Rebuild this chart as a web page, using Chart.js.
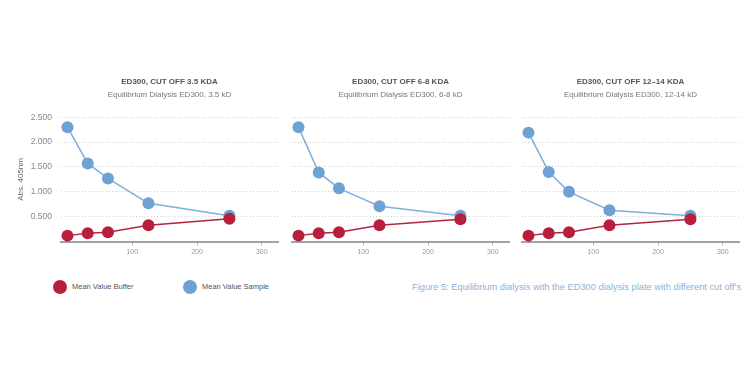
<!DOCTYPE html>
<html>
<head>
<meta charset="utf-8">
<script src="https://cdn.jsdelivr.net/npm/chart.js@4.4.0/dist/chart.umd.min.js"></script>
<style>
  body { margin: 0; background: #fff; font-family: "Liberation Sans", Arial, sans-serif; }
  #wrap { position: relative; width: 750px; height: 375px; overflow: hidden; }
  canvas { position: absolute; top: 70px; }
  .leg { position: absolute; top: 280px; height: 14px; line-height: 14px; font-size: 7.5px; color: #555; }
  .dot { position: absolute; top: 0; width: 14px; height: 14px; border-radius: 50%; }
  .leg span.txt { position: absolute; left: 19px; white-space: nowrap; }
  #caption { position: absolute; left: 412px; top: 280px; line-height: 14px; font-size: 9.3px; color: #8ab3dc; white-space: nowrap; }
</style>
</head>
<body>
<div id="wrap">
  <canvas id="c1" width="285" height="190" style="left:0px"></canvas>
  <canvas id="c2" width="230" height="190" style="left:285px"></canvas>
  <canvas id="c3" width="230" height="190" style="left:515px"></canvas>
  <div class="leg" style="left:53px"><div class="dot" style="background:#b71f3c"></div><span class="txt">Mean Value Buffer</span></div>
  <div class="leg" style="left:183px"><div class="dot" style="background:#6ea1d4"></div><span class="txt">Mean Value Sample</span></div>
  <div id="caption">Figure 5: Equilibrium dialysis with the ED300 dialysis plate with different cut off's</div>
</div>
<script>
// concentracion (eje x) comun a los tres paneles
const dilucion = [0, 31.25, 62.5, 125, 250];

const titulos = ['ED300, CUT OFF 3.5 KDA', 'ED300, CUT OFF 6-8 KDA', 'ED300, CUT OFF 12\u201314 KDA'];
const subtitulos = ['Equilibrium Dialysis ED300, 3.5 kD', 'Equilibrium Dialysis ED300, 6-8 kD', 'Equilibrium Dialysis ED300, 12-14 kD'];

// Mean Value Buffer
const buffer35 = [0.12, 0.17, 0.19, 0.33, 0.46];
const buffer68 = [0.12, 0.17, 0.19, 0.33, 0.45];
const buffer1214 = [0.12, 0.17, 0.19, 0.33, 0.45];

// Mean Value Sample
const sample35 = [2.30, 1.57, 1.27, 0.77, 0.52];
const sample68 = [2.30, 1.39, 1.07, 0.71, 0.52];
const sample1214 = [2.19, 1.40, 1.00, 0.63, 0.52];

const ticksX = [100, 200, 300];
const ticksY = [0.5, 1, 1.5, 2, 2.5];

const rojo = '#b71f3c';
const azul = '#6ea1d4';

function puntos(valores) {
    return dilucion.map((x, i) => ({ x: x, y: valores[i] }));
}

function crearPanel(id, idx, buffer, sample, conEje) {
    new Chart(document.getElementById(id), {
        type: 'line',
        data: {
            datasets: [
                { label: 'Mean Value Buffer', data: puntos(buffer), borderColor: '#b3243f', backgroundColor: rojo,
                  pointBackgroundColor: rojo, pointBorderWidth: 0, pointRadius: 6, borderWidth: 1.5, clip: false },
                { label: 'Mean Value Sample', data: puntos(sample), borderColor: '#80afdb', backgroundColor: azul,
                  pointBackgroundColor: azul, pointBorderWidth: 0, pointRadius: 6, borderWidth: 1.5, clip: false }
            ]
        },
        options: {
            responsive: false,
            animation: false,
            devicePixelRatio: 1,
            layout: { padding: { left: conEje ? 0 : 7, right: conEje ? 7 : 4, top: 0, bottom: 2 } },
            plugins: {
                legend: { display: false },
                tooltip: { enabled: false },
                title: { display: true, text: titulos[idx], fullSize: false, color: '#555',
                         font: { family: 'Liberation Sans', size: 8, weight: 'bold' }, padding: { top: 7, bottom: 2 } },
                subtitle: { display: true, text: subtitulos[idx], fullSize: false, color: '#777',
                            font: { family: 'Liberation Sans', size: 8 }, padding: { top: 1, bottom: 18 } }
            },
            scales: {
                x: {
                    type: 'linear', min: -10, max: 325,
                    afterBuildTicks: s => { s.ticks = ticksX.map(v => ({ value: v })); },
                    grid: { drawOnChartArea: false, drawTicks: true, tickLength: 4, tickColor: '#bbb' },
                    border: { display: true, color: '#a3a3a3', width: 2 },
                    ticks: { color: '#999', padding: 2, font: { family: 'Liberation Sans', size: 7 } }
                },
                y: {
                    min: 0, max: 2.5,
                    afterBuildTicks: s => { s.ticks = ticksY.map(v => ({ value: v })); },
                    afterFit: s => { s.width = conEje ? 61 : 0; },
                    grid: { color: '#cfcfcf', drawTicks: false, lineWidth: 1 },
                    border: { display: false, dash: [1, 2] },
                    ticks: { display: conEje, color: '#888', padding: 9, font: { family: 'Liberation Sans', size: 8.5 },
                             callback: v => v.toFixed(3) },
                    title: { display: conEje, text: 'Abs. 405nm', color: '#666', padding: { top: 16, bottom: 0 },
                             font: { family: 'Liberation Sans', size: 8 } }
                }
            }
        }
    });
}

crearPanel('c1', 0, buffer35, sample35, true);
crearPanel('c2', 1, buffer68, sample68, false);
crearPanel('c3', 2, buffer1214, sample1214, false);
</script>
</body>
</html>
